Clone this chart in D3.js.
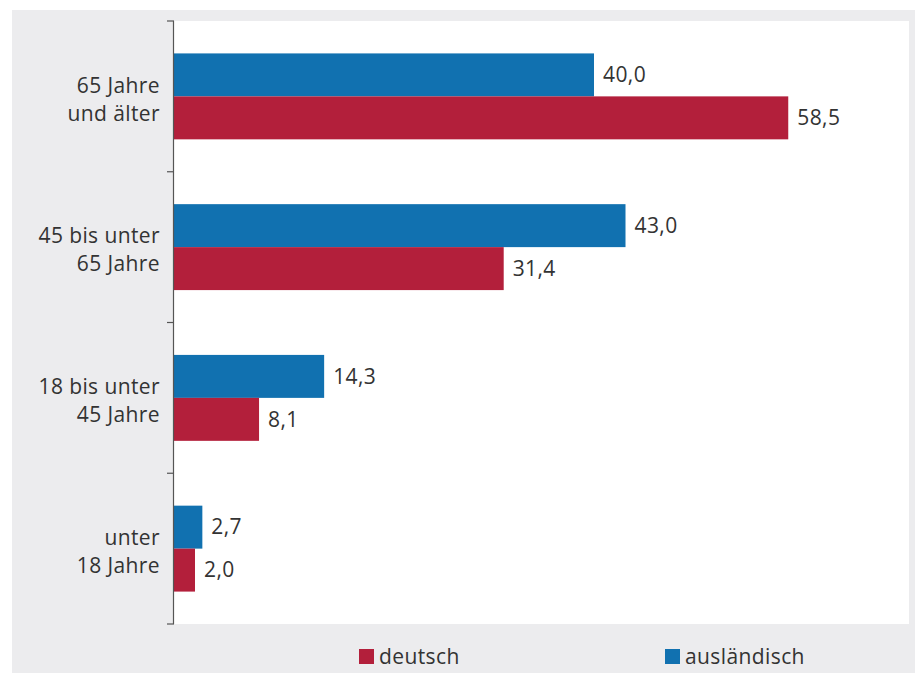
<!DOCTYPE html>
<html><head><meta charset="utf-8">
<script src="https://cdn.jsdelivr.net/npm/d3@7"></script>
<style>body{margin:0;background:#fff}svg{display:block}</style>
</head><body>
<script>
const categories = [["65 Jahre","und älter"],["45 bis unter","65 Jahre"],["18 bis unter","45 Jahre"],["unter","18 Jahre"]];
const seriesNames = ["ausländisch","deutsch"];
const auslaendisch = [40.0, 43.0, 14.3, 2.7];
const deutsch = [58.5, 31.4, 8.1, 2.0];
const colors = {"ausländisch":"#1171b0","deutsch":"#b31f3b"};
const fmt = v => v.toFixed(1).replace(".", ",");

(function(){
const W=915,H=673;
const svg=d3.select("body").append("svg").attr("width",W).attr("height",H);
const font="'Open Sans', Roboto, sans-serif";
const fs=21, ls="0.4px";
svg.append("rect").attr("x",12).attr("y",10).attr("width",W-12).attr("height",H-10).attr("fill","#ececee");
const pL=174,pR=909,pT=21,pB=624;
svg.append("rect").attr("x",pL).attr("y",pT).attr("width",pR-pL).attr("height",pB-pT).attr("fill","#fff");

const x=d3.scaleLinear().domain([0,70]).range([pL,pR]);
const idx=d3.range(categories.length);
const y=d3.scaleBand().domain(idx).range([pT,pB]).paddingInner(0.43).paddingOuter(0.215);
const sub=d3.scaleBand().domain(seriesNames).range([0,y.bandwidth()]);

const data=idx.map(i=>({i,vals:[{s:"ausländisch",v:auslaendisch[i]},{s:"deutsch",v:deutsch[i]}]}));
const g=svg.append("g");
const grp=g.selectAll("g.c").data(data).join("g").attr("transform",d=>`translate(0,${y(d.i)})`);
grp.selectAll("rect").data(d=>d.vals).join("rect")
  .attr("x",x(0)).attr("y",d=>sub(d.s)).attr("width",d=>x(d.v)-x(0)).attr("height",sub.bandwidth())
  .attr("fill",d=>colors[d.s]);
grp.selectAll("text.v").data(d=>d.vals).join("text").attr("class","v")
  .attr("x",d=>x(d.v)+9).attr("y",d=>sub(d.s)+sub.bandwidth()/2).attr("dy","0.35em")
  .attr("font-family",font).attr("font-size",fs).attr("letter-spacing",ls).attr("fill","#333").text(d=>fmt(d.v));

const boundaries=d3.range(categories.length+1).map(k=>pT+k*(pB-pT)/categories.length);
const ax=svg.append("g");
ax.append("line").attr("x1",pL-0.5).attr("x2",pL-0.5).attr("y1",pT).attr("y2",pB).attr("stroke","#555").attr("stroke-width",1.2);
ax.selectAll("line.t").data(boundaries).join("line").attr("class","t")
  .attr("x1",pL-7).attr("x2",pL).attr("y1",d=>d).attr("y2",d=>d).attr("stroke","#555").attr("stroke-width",1.2);

const lab=svg.selectAll("text.cat").data(data).join("text").attr("class","cat")
  .attr("text-anchor","end")
  .attr("font-family",font).attr("font-size",fs).attr("letter-spacing",ls).attr("fill","#333");
lab.selectAll("tspan").data(d=>categories[d.i].map((t,k)=>({t,k,c:y(d.i)+y.bandwidth()/2}))).join("tspan")
  .attr("x",160).attr("y",d=>d.c+3+(d.k-0.5)*28).attr("dy","0.35em").text(d=>d.t);

const leg=[{s:"deutsch",x:359},{s:"ausländisch",x:665}];
const lg=svg.selectAll("g.l").data(leg).join("g").attr("transform",d=>`translate(${d.x},649)`);
lg.append("rect").attr("width",15).attr("height",15).attr("fill",d=>colors[d.s]);
lg.append("text").attr("x",20).attr("y",7.5).attr("dy","0.35em").attr("font-family",font).attr("font-size",fs).attr("letter-spacing",ls).attr("fill","#333").text(d=>d.s);
})();
</script>
</body></html>
